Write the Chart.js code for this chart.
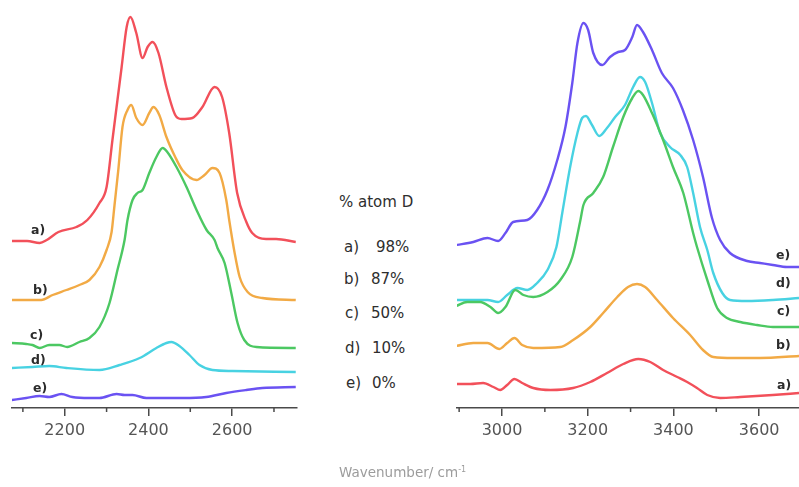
<!DOCTYPE html>
<html>
<head>
<meta charset="utf-8">
<script src="https://cdn.jsdelivr.net/npm/chart.js@4/dist/chart.umd.min.js"></script>
<style>
  html, body { margin: 0; padding: 0; background: #fff; }
  #wrap { position: relative; width: 799px; height: 487px; overflow: hidden; font-family: "DejaVu Sans", Verdana, sans-serif; }
  canvas { position: absolute; top: 0; }
  #odCanvas { left: 0; }
  #ohCanvas { left: 440px; }
  .lbl { position: absolute; font-size: 12.5px; font-weight: bold; color: #2b2b2b; line-height: 14px; transform: translateY(-7px); white-space: pre; }
  .leg { position: absolute; font-size: 15px; color: #2e2e2e; line-height: 18px; transform: translateY(-9px); white-space: pre; }
  #xtitle { position: absolute; left: 339px; top: 464px; font-size: 13.5px; color: #9c9c9c; white-space: pre; }
  #xtitle sup { font-size: 8px; }
</style>
</head>
<body>
<div id="wrap">
  <canvas id="odCanvas" width="310" height="487"></canvas>
  <canvas id="ohCanvas" width="359" height="487"></canvas>

  <!-- series labels, O–D stretching region -->
  <div class="lbl" style="left:31px;top:230px">a)</div>
  <div class="lbl" style="left:33px;top:290px">b)</div>
  <div class="lbl" style="left:30px;top:335px">c)</div>
  <div class="lbl" style="left:31px;top:360px">d)</div>
  <div class="lbl" style="left:33px;top:388px">e)</div>

  <!-- series labels, O–H stretching region -->
  <div class="lbl" style="left:776px;top:255px">e)</div>
  <div class="lbl" style="left:776px;top:283px">d)</div>
  <div class="lbl" style="left:777px;top:311px">c)</div>
  <div class="lbl" style="left:776px;top:345px">b)</div>
  <div class="lbl" style="left:777px;top:385px">a)</div>

  <!-- deuteration key -->
  <div class="leg" style="left:339px;top:202px">% atom D</div>
  <div class="leg" style="left:344px;top:247px">a)</div><div class="leg" style="left:376px;top:247px">98%</div>
  <div class="leg" style="left:344px;top:279px">b)</div><div class="leg" style="left:371px;top:279px">87%</div>
  <div class="leg" style="left:345px;top:313px">c)</div><div class="leg" style="left:371px;top:313px">50%</div>
  <div class="leg" style="left:345px;top:348px">d)</div><div class="leg" style="left:372px;top:348px">10%</div>
  <div class="leg" style="left:346px;top:383px">e)</div><div class="leg" style="left:372px;top:383px">0%</div>

  <div id="xtitle">Wavenumber/ cm<sup>-1</sup></div>
</div>

<script>
// Stacked IR spectra (offset absorbance, a.u.), pairs of [wavenumber cm-1, value]
// O–D stretching region
const odA = [[2073,1.67],[2110,1.67],[2140,1.65],[2157,1.68],[2185,1.76],[2228,1.81],[2254,1.88],[2283,2.05],[2300,2.21],[2314,2.68],[2326,3.08],[2336,3.41],[2348,3.81],[2357,3.91],[2371,3.75],[2386,3.50],[2398,3.61],[2410,3.66],[2424,3.55],[2443,3.21],[2464,2.93],[2479,2.89],[2505,2.90],[2529,3.01],[2558,3.21],[2576,3.11],[2593,2.75],[2612,2.15],[2634,1.86],[2648,1.75],[2681,1.69],[2705,1.69],[2752,1.66]];
const odB = [[2073,1.08],[2144,1.08],[2171,1.13],[2204,1.18],[2235,1.23],[2259,1.28],[2283,1.41],[2300,1.58],[2312,1.76],[2319,2.03],[2328,2.38],[2338,2.81],[2350,2.98],[2359,3.03],[2371,2.90],[2386,2.83],[2402,2.95],[2412,3.01],[2426,2.93],[2443,2.71],[2464,2.51],[2481,2.38],[2515,2.28],[2534,2.33],[2553,2.40],[2570,2.35],[2586,2.08],[2593,1.88],[2606,1.55],[2618,1.31],[2637,1.16],[2672,1.10],[2752,1.08]];
const odC = [[2073,0.65],[2108,0.64],[2123,0.63],[2140,0.60],[2163,0.63],[2187,0.63],[2206,0.61],[2235,0.66],[2259,0.70],[2283,0.81],[2307,1.05],[2326,1.38],[2343,1.68],[2350,1.88],[2362,2.08],[2374,2.15],[2386,2.18],[2402,2.35],[2419,2.51],[2434,2.60],[2445,2.56],[2467,2.41],[2491,2.21],[2515,1.98],[2539,1.78],[2558,1.68],[2565,1.60],[2582,1.45],[2598,1.15],[2613,0.85],[2629,0.68],[2658,0.61],[2752,0.60]];
const odD = [[2073,0.40],[2123,0.41],[2163,0.42],[2204,0.40],[2283,0.38],[2331,0.43],[2379,0.50],[2419,0.60],[2443,0.65],[2455,0.66],[2474,0.62],[2498,0.53],[2522,0.43],[2553,0.38],[2601,0.37],[2752,0.36]];
const odE = [[2073,0.08],[2108,0.10],[2140,0.12],[2163,0.11],[2192,0.14],[2218,0.11],[2259,0.10],[2283,0.10],[2324,0.14],[2343,0.13],[2362,0.13],[2395,0.10],[2443,0.10],[2481,0.10],[2538,0.11],[2586,0.15],[2634,0.18],[2672,0.20],[2752,0.21]];

// O–H stretching region
const ohA = [[2893,0.24],[2926,0.24],[2956,0.25],[2980,0.21],[2996,0.18],[3012,0.23],[3029,0.29],[3047,0.25],[3073,0.20],[3113,0.18],[3166,0.20],[3206,0.26],[3245,0.35],[3283,0.44],[3318,0.49],[3346,0.46],[3376,0.38],[3409,0.31],[3432,0.26],[3455,0.20],[3479,0.13],[3509,0.10],[3556,0.11],[3632,0.13],[3693,0.15]];
const ohB = [[2893,0.62],[2933,0.65],[2966,0.65],[2994,0.59],[3012,0.65],[3029,0.70],[3047,0.63],[3073,0.60],[3136,0.61],[3166,0.68],[3206,0.81],[3236,0.95],[3269,1.11],[3294,1.21],[3315,1.24],[3334,1.21],[3362,1.08],[3399,0.90],[3439,0.73],[3469,0.58],[3493,0.51],[3540,0.50],[3602,0.50],[3693,0.52]];
const ohC = [[2893,1.02],[2919,1.06],[2949,1.06],[2973,1.01],[2991,0.95],[3008,1.01],[3031,1.18],[3050,1.13],[3073,1.11],[3106,1.16],[3136,1.28],[3164,1.51],[3183,1.88],[3190,2.03],[3213,2.15],[3236,2.31],[3259,2.61],[3283,2.91],[3304,3.10],[3318,3.17],[3329,3.13],[3350,2.95],[3376,2.68],[3399,2.41],[3423,2.15],[3446,1.75],[3455,1.61],[3479,1.28],[3502,1.00],[3525,0.90],[3556,0.86],[3595,0.83],[3632,0.81],[3693,0.81]];
const ohD = [[2893,1.08],[2933,1.08],[2966,1.08],[2991,1.06],[3012,1.13],[3036,1.20],[3059,1.18],[3082,1.25],[3106,1.38],[3127,1.61],[3141,1.96],[3159,2.41],[3176,2.75],[3187,2.90],[3196,2.92],[3210,2.83],[3227,2.72],[3245,2.80],[3264,2.91],[3287,3.03],[3306,3.21],[3322,3.31],[3334,3.26],[3350,3.05],[3369,2.75],[3392,2.61],[3416,2.53],[3432,2.41],[3446,2.15],[3462,1.81],[3479,1.58],[3493,1.35],[3514,1.15],[3532,1.08],[3572,1.07],[3632,1.08],[3693,1.10]];
const ohE = [[2893,1.63],[2933,1.66],[2966,1.70],[2991,1.67],[3008,1.75],[3026,1.86],[3059,1.88],[3082,1.98],[3106,2.18],[3129,2.48],[3148,2.81],[3164,3.25],[3176,3.65],[3190,3.85],[3201,3.78],[3213,3.55],[3234,3.43],[3252,3.51],[3271,3.56],[3287,3.58],[3304,3.71],[3315,3.83],[3329,3.76],[3350,3.58],[3373,3.35],[3399,3.20],[3422,2.98],[3446,2.68],[3469,2.31],[3490,1.90],[3509,1.68],[3532,1.55],[3572,1.47],[3602,1.45],[3632,1.43],[3665,1.41],[3693,1.41]];

// axis ticks (labels on every second one)
const odTicks = [2100, 2200, 2300, 2400, 2500, 2600, 2700];
const ohTicks = [2900, 3000, 3100, 3200, 3300, 3400, 3500, 3600];
const labelStep = 200;

const seriesColors = ['#f2505a', '#f2aa45', '#4cc862', '#48d2e2', '#6a52f2'];

const toPoints = arr => arr.map(([x, y]) => ({ x, y }));

// short ticks at the unlabelled positions
const minorTicks = {
  id: 'minorTicks',
  afterDraw(chart) {
    const s = chart.scales.x, c = chart.ctx;
    c.save();
    c.strokeStyle = '#4a4a4a';
    c.lineWidth = 1.5;
    s.ticks.forEach(t => {
      if (t.value % labelStep !== 0) {
        const px = s.getPixelForValue(t.value);
        c.beginPath();
        c.moveTo(px, s.top);
        c.lineTo(px, s.top + 4);
        c.stroke();
      }
    });
    c.restore();
  }
};

function spectrumChart(id, xMin, xMax, tickValues, series, padLeft, padRight) {
  return new Chart(document.getElementById(id), {
    type: 'line',
    data: {
      datasets: series.map((s, i) => ({
        data: toPoints(s),
        borderColor: seriesColors[i],
        borderWidth: 2.4,
        pointRadius: 0,
        fill: false,
        cubicInterpolationMode: 'monotone'
      }))
    },
    options: {
      responsive: false,
      animation: false,
      events: [],
      layout: { padding: { top: 8, left: padLeft, right: padRight, bottom: 0 } },
      plugins: { legend: { display: false }, tooltip: { enabled: false } },
      scales: {
        x: {
          type: 'linear',
          min: xMin,
          max: xMax,
          afterBuildTicks: s => { s.ticks = tickValues.map(v => ({ value: v })); },
          afterFit: s => { s.height = 79; },
          border: { display: true, color: '#4a4a4a', width: 1.5 },
          grid: {
            drawOnChartArea: false,
            drawTicks: true,
            tickLength: 8,
            lineWidth: 1.5,
            color: ctx => (ctx.tick && ctx.tick.value % labelStep === 0) ? '#4a4a4a' : 'rgba(0,0,0,0)'
          },
          ticks: {
            autoSkip: false,
            maxRotation: 0,
            padding: 5,
            color: '#555',
            font: { family: 'DejaVu Sans', size: 16 },
            callback: v => (v % labelStep === 0 ? String(v) : '')
          }
        },
        y: { display: false, min: 0, max: 4 }
      }
    },
    plugins: [minorTicks]
  });
}

spectrumChart('odCanvas', 2074, 2755, odTicks, [odA, odB, odC, odD, odE], 12, 13);
spectrumChart('ohCanvas', 2895, 3693, ohTicks, [ohA, ohB, ohC, ohD, ohE], 17, 0);
</script>
</body>
</html>
